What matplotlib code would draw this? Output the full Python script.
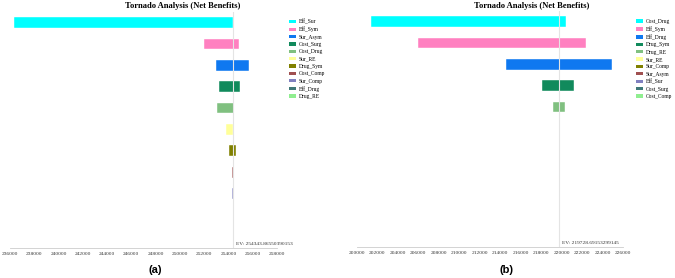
import matplotlib
matplotlib.use("Agg")
import matplotlib.pyplot as plt
import matplotlib.transforms as mtransforms
from matplotlib.patches import Patch

# colours follow rank order (widest swing first)
rank_colors = ["#00ffff", "#ff80c0", "#0f78f0", "#118a5c", "#80c080", "#ffff99",
               "#808000", "#a05050", "#8080c0", "#3f7878", "#90ee90"]

# panel (a)
labels_a = ["Eff_Sur", "Eff_Sym", "Sur_Asym", "Cost_Surg", "Cost_Drug", "Sur_RE",
            "Drug_Sym", "Cost_Comp", "Sur_Comp", "Eff_Drug", "Drug_RE"]
low_a = [236300, 252000, 253010, 253200, 253060, 253770, 254010, 254310, 254330, 254340, 254342]
high_a = [254360, 254830, 255670, 254930, 254440, 254360, 254660, 254390, 254360, 254350, 254346]
ev_a = 254343.86550390154
ticks_a = list(range(236000, 258001, 2000))

# panel (b)
labels_b = ["Cost_Drug", "Eff_Sym", "Eff_Drug", "Drug_Sym", "Drug_RE", "Sur_RE",
            "Sur_Comp", "Sur_Asym", "Eff_Sur", "Cost_Surg", "Cost_Comp"]
low_b = [201360, 205950, 214550, 218040, 219200, 219725, 219726, 219727, 219728, 219728, 219728]
high_b = [220430, 222370, 224960, 221170, 220340, 219732, 219731, 219730, 219729, 219729, 219729]
ev_b = 219728.69153299145
ticks_b = list(range(200000, 226001, 2000))

W, H = 675, 278
fig = plt.figure(figsize=(6.75, 2.78), dpi=100)


def tornado(rect, labels, low, high, ev, ticks, xlim, title_x, legend_x, tag, tag_x):
    ax = fig.add_axes(rect)
    y = list(range(len(labels)))
    widths = [h - l for l, h in zip(low, high)]
    ax.barh(y, widths, left=low, height=0.5, color=rank_colors,
            edgecolor="white", linewidth=0.3, zorder=2)
    ax.axvline(ev, color="#e4e4e4", lw=0.8, zorder=3)
    ax.set_xlim(*xlim)
    ax.set_ylim(10.55, -0.5)
    ax.set_yticks([])
    ax.set_xticks(ticks)
    ax.set_xticklabels([str(t) for t in ticks], fontsize=3.9,
                       fontfamily="Liberation Serif", color="#333333")
    ax.tick_params(axis="x", length=0, pad=3)
    for s in ["top", "right", "left"]:
        ax.spines[s].set_visible(False)
    ax.spines["bottom"].set_color("#cccccc")
    ax.spines["bottom"].set_linewidth(0.6)
    trans = mtransforms.blended_transform_factory(ax.transData, ax.transAxes)
    ax.annotate(f"EV: {ev}", xy=(ev, 0.0), xycoords=trans, xytext=(2.5, 1.5),
                textcoords="offset points", fontsize=3.9, fontfamily="Liberation Serif",
                color="#333333", ha="left", va="bottom", annotation_clip=False)
    fig.text(title_x / W, 1 - 6.5 / H, "Tornado Analysis (Net Benefits)", ha="center",
             va="center", fontsize=6.1, fontweight="bold", fontfamily="Liberation Serif")
    handles = [Patch(facecolor=c, edgecolor="none") for c in rank_colors]
    fig.legend(handles, labels, loc="upper left", bbox_to_anchor=(legend_x / W, 1 - 19 / H),
               frameon=False, prop={"family": "Liberation Serif", "size": 4.0},
               handlelength=1.3, handleheight=0.55, handletextpad=0.5,
               labelspacing=0.42, borderaxespad=0, borderpad=0)
    fig.text(tag_x / W, 1 - 270 / H, tag, ha="center", va="center", fontsize=8,
             fontweight="bold", fontfamily="Liberation Sans")
    return ax


tornado([10 / W, 30 / H, 267 / W, 236 / H], labels_a, low_a, high_a, ev_a, ticks_a,
        (236250, 258000), 183, 289, "(a)", 155)
tornado([357 / W, 31 / H, 266 / W, 236 / H], labels_b, low_b, high_b, ev_b, ticks_b,
        (200100, 225900), 532, 636, "(b)", 507)

fig.savefig("out.png", dpi=100)
